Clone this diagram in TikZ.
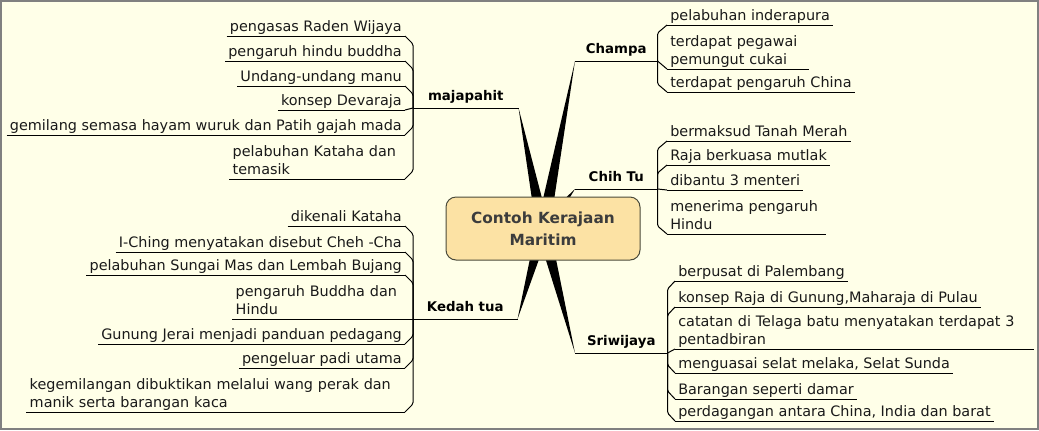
\documentclass[tikz,border=0pt]{standalone}
\usepackage{fontspec}
\setmainfont{DejaVu Sans}
\usetikzlibrary{calc}
\definecolor{bgc}{HTML}{FFFFE8}
\definecolor{framec}{HTML}{808080}
\definecolor{ctrfill}{HTML}{FCE2A4}
\definecolor{ctrdraw}{HTML}{4A4A3A}
\definecolor{ctrtext}{HTML}{3C3C3C}
\definecolor{itemtext}{HTML}{1A1A1A}
\newcommand\mystrut{\rule[-2.6pt]{0pt}{9pt}}
\newcommand\itemfont{\fontsize{10.8pt}{13.5pt}\selectfont}
\newcommand\topicfont{\fontsize{10pt}{12pt}\selectfont\bfseries}
\newcommand\linkup[2]{\draw[conn] (#1) -- ($(#1 |- #2)+(0,8)$) -- (#2);}
\newcommand\linkdn[2]{\draw[conn] (#1) -- ($(#1 |- #2)+(0,-8)$) -- (#2);}
\newcommand\linkst[2]{\draw[conn] (#1) -- (#2);}
\newcommand\branch[1]{\fill ($(ctr)!5pt!90:(#1)$) -- (#1) -- ($(ctr)!5pt!-90:(#1)$) -- cycle;}
\begin{document}
\begin{tikzpicture}[x=0.75pt,y=-0.75pt,
  conn/.style={draw=black,line width=0.75pt,rounded corners=1.2pt},
  uline/.style={draw=black,line width=0.75pt},
  item/.style={font=\itemfont,text=itemtext,inner xsep=2.25pt,inner ysep=0.75pt,execute at end node=\mystrut},
  itemL/.style={item,anchor=south east},
  itemR/.style={item,anchor=south west},
  topic/.style={font=\topicfont,text=black,inner xsep=0pt,inner ysep=2.6pt,anchor=south west,execute at end node=\mystrut},
  multi/.style={align=left,text width=#1}]
\useasboundingbox (0,0) rectangle (1039,430);
\fill[bgc] (0,0) rectangle (1039,430);
\draw[framec,line width=1.5pt] (1,1) rectangle (1038,429);

\coordinate (ctr) at (543,228.5);

% main topics
\node[topic,minimum width=78.75pt] (maj) at (413,108) {majapahit};
\node[topic,minimum width=78pt] (ked) at (413,319) {Kedah tua};
\node[topic,minimum width=61.5pt] (cha) at (575,61) {Champa};
\node[topic,minimum width=61.5pt] (chi) at (575,189) {Chih Tu};
\node[topic,minimum width=69pt] (sri) at (575,353) {Sriwijaya};

% tapering branches
\branch{maj.south east}
\branch{ked.south east}
\branch{cha.south west}
\branch{chi.south west}
\branch{sri.south west}

% central topic
\node[draw=ctrdraw,fill=ctrfill,line width=0.75pt,rounded corners=7.5pt,
  minimum width=145.5pt,minimum height=47.25pt,align=center,
  font=\fontsize{11.5pt}{16.5pt}\selectfont\bfseries,text=ctrtext] (center) at (ctr) {Contoh Kerajaan\\Maritim};

% majapahit items
\node[itemL] (m1) at (405,36) {pengasas Raden Wijaya};
\node[itemL] (m2) at (405,61) {pengaruh hindu buddha};
\node[itemL] (m3) at (405,86) {Undang-undang manu};
\node[itemL] (m4) at (405,110) {konsep Devaraja};
\node[itemL] (m5) at (405,135) {gemilang semasa hayam wuruk dan Patih gajah mada};
\node[itemL,multi=126.75pt] (m6) at (405,179) {pelabuhan Kataha dan\\temasik};

% Kedah tua items
\node[itemL] (k1) at (405,226) {dikenali Kataha};
\node[itemL] (k2) at (405,252) {I-Ching menyatakan disebut Cheh -Cha};
\node[itemL] (k3) at (405,275) {pelabuhan Sungai Mas dan Lembah Bujang};
\node[itemL,multi=124.5pt] (k4) at (405,319) {pengaruh Buddha dan\\Hindu};
\node[itemL] (k5) at (405,344) {Gunung Jerai menjadi panduan pedagang};
\node[itemL] (k6) at (405,368) {pengeluar padi utama};
\node[itemL,multi=279pt] (k7) at (405,412) {kegemilangan dibuktikan melalui wang perak dan\\manik serta barangan kaca};

% Champa items
\node[itemR] (c1) at (667,25) {pelabuhan inderapura};
\node[itemR,multi=101.25pt] (c2) at (667,69) {terdapat pegawai\\pemungut cukai};
\node[itemR] (c3) at (667,92) {terdapat pengaruh China};

% Chih Tu items
\node[itemR] (t1) at (667,141) {bermaksud Tanah Merah};
\node[itemR] (t2) at (667,165) {Raja berkuasa mutlak};
\node[itemR] (t3) at (667,190) {dibantu 3 menteri};
\node[itemR,multi=114pt] (t4) at (667,234) {menerima pengaruh\\Hindu};

% Sriwijaya items
\node[itemR] (s1) at (675,281) {berpusat di Palembang};
\node[itemR] (s2) at (675,307) {konsep Raja di Gunung,Maharaja di Pulau};
\node[itemR,multi=264pt] (s3) at (675,349) {catatan di Telaga batu menyatakan terdapat 3\\pentadbiran};
\node[itemR] (s4) at (675,373) {menguasai selat melaka, Selat Sunda};
\node[itemR] (s5) at (675,399) {Barangan seperti damar};
\node[itemR] (s6) at (675,421) {perdagangan antara China, India dan barat};

% underlines
\foreach \n in {maj,ked,cha,chi,sri,m1,m2,m3,m4,m5,m6,k1,k2,k3,k4,k5,k6,k7,c1,c2,c3,t1,t2,t3,t4,s1,s2,s3,s4,s5,s6}
  \draw[uline] (\n.south west) -- (\n.south east);

% connectors
\linkup{maj.south west}{m1.south east}
\linkup{maj.south west}{m2.south east}
\linkup{maj.south west}{m3.south east}
\linkst{maj.south west}{m4.south east}
\linkdn{maj.south west}{m5.south east}
\linkdn{maj.south west}{m6.south east}

\linkup{ked.south west}{k1.south east}
\linkup{ked.south west}{k2.south east}
\linkup{ked.south west}{k3.south east}
\linkst{ked.south west}{k4.south east}
\linkdn{ked.south west}{k5.south east}
\linkdn{ked.south west}{k6.south east}
\linkdn{ked.south west}{k7.south east}

\linkup{cha.south east}{c1.south west}
\linkst{cha.south east}{c2.south west}
\linkdn{cha.south east}{c3.south west}

\linkup{chi.south east}{t1.south west}
\linkup{chi.south east}{t2.south west}
\linkst{chi.south east}{t3.south west}
\linkdn{chi.south east}{t4.south west}

\linkup{sri.south east}{s1.south west}
\linkup{sri.south east}{s2.south west}
\linkst{sri.south east}{s3.south west}
\linkdn{sri.south east}{s4.south west}
\linkdn{sri.south east}{s5.south west}
\linkdn{sri.south east}{s6.south west}
\end{tikzpicture}
\end{document}
